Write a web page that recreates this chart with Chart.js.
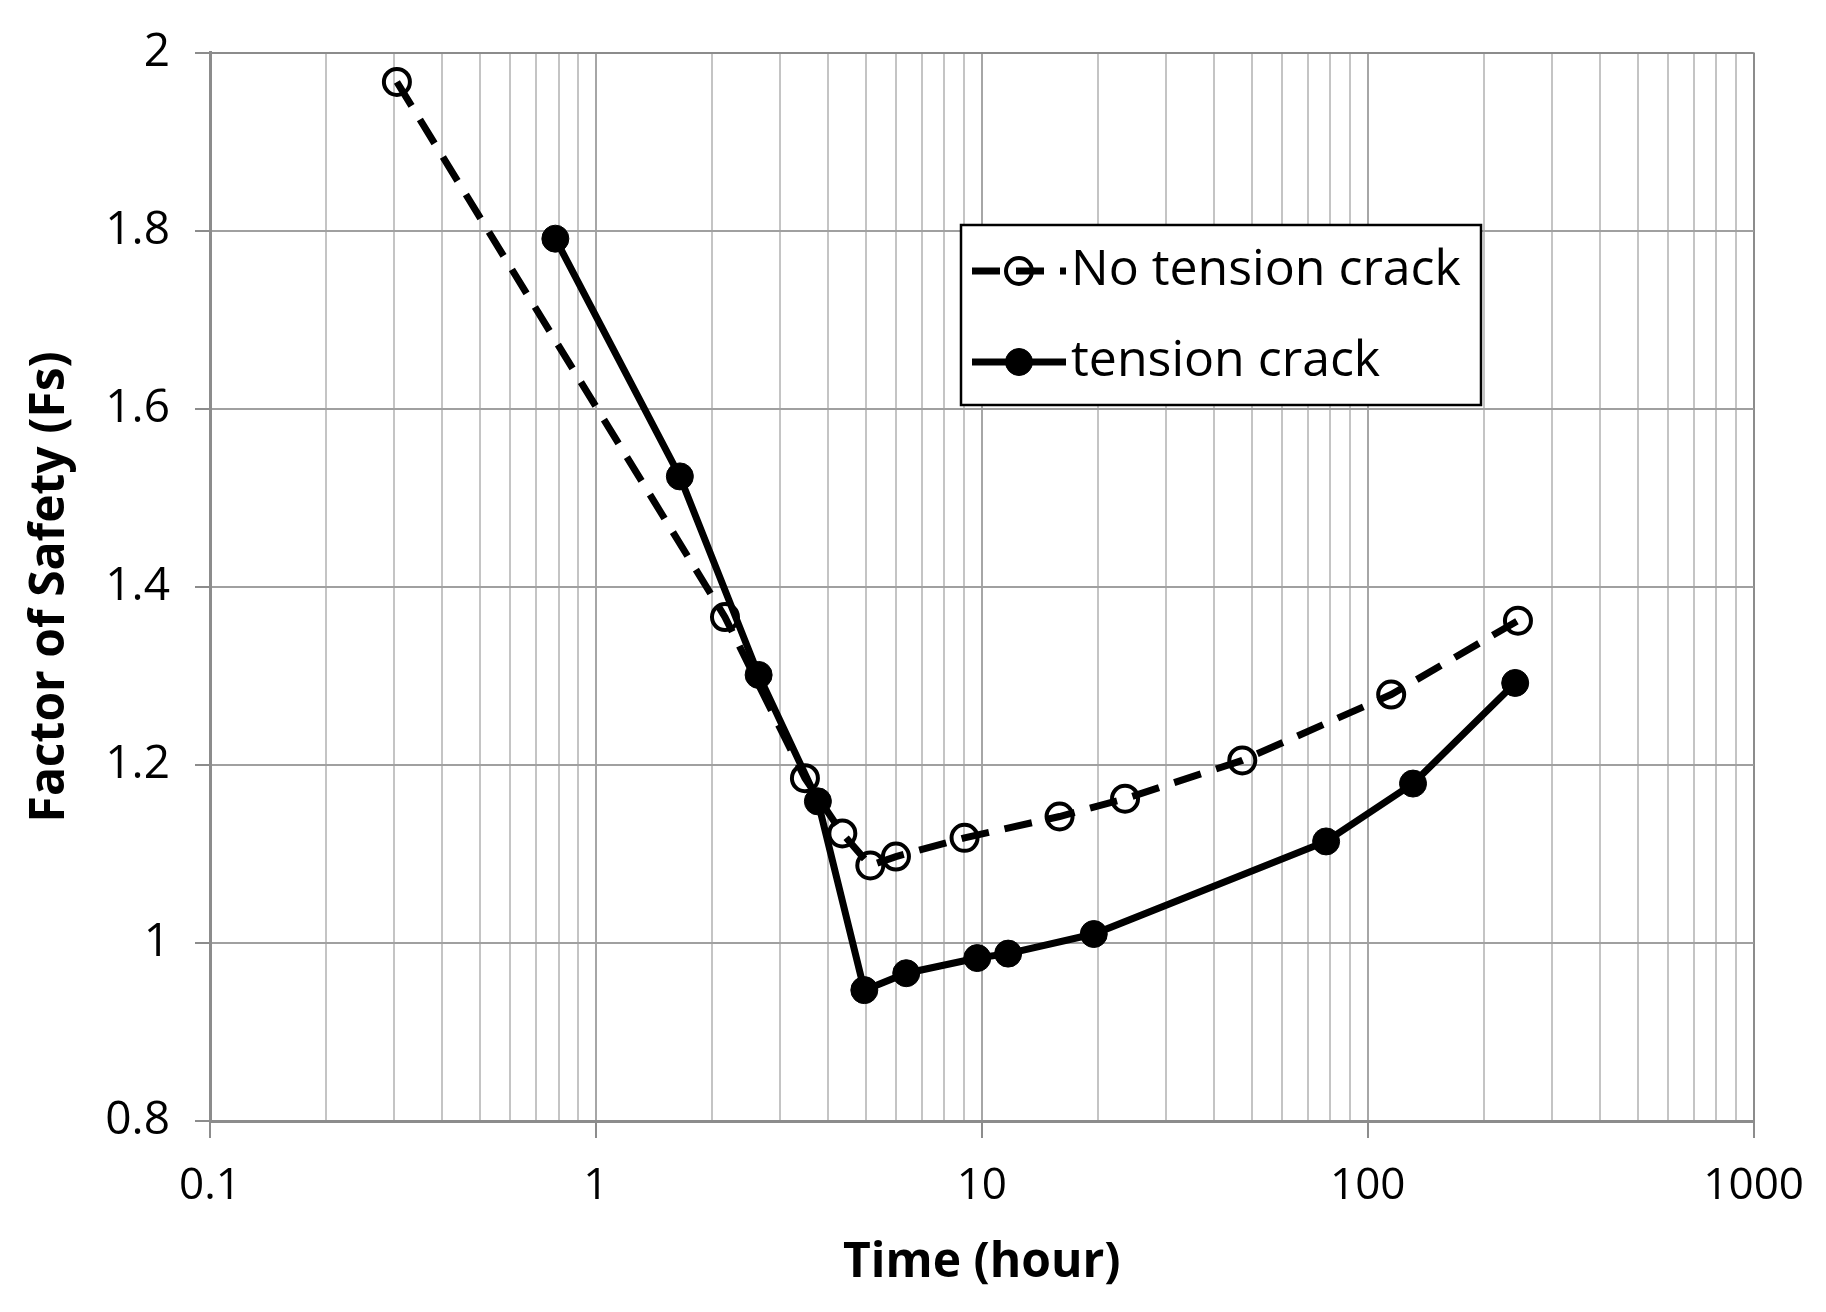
<!DOCTYPE html>
<html>
<head>
<meta charset="utf-8">
<script src="https://cdn.jsdelivr.net/npm/chart.js@4.4.1/dist/chart.umd.min.js"></script>
<style>
  html, body { margin: 0; padding: 0; background: #fff; }
  #fsChart { display: block; }
</style>
</head>
<body>
<canvas id="fsChart" width="1826" height="1312"></canvas>
<script>
// Factor of safety vs time

// No tension crack (open circles, dashed)
const noCrackTime = [0.305, 2.16, 3.48, 4.35, 5.14, 5.99, 9.02, 15.9, 23.5, 47.3, 115, 245];
const noCrackFs   = [1.967, 1.366, 1.185, 1.123, 1.087, 1.097, 1.118, 1.142, 1.162, 1.205, 1.279, 1.362];

// Tension crack (filled circles, solid)
const crackTime = [0.785, 1.65, 2.64, 3.76, 4.96, 6.37, 9.73, 11.7, 19.5, 78, 131, 241];
const crackFs   = [1.791, 1.524, 1.301, 1.159, 0.947, 0.966, 0.983, 0.988, 1.010, 1.114, 1.179, 1.292];

// axis ticks
const xMajorTicks = [0.1, 1, 10, 100, 1000];
const yTickValues = [0.8, 1, 1.2, 1.4, 1.6, 1.8, 2];

const toPoints = (xs, ys) => xs.map((x, i) => ({ x: x, y: ys[i] }));

// decades plus the 2..9 lines between them
const buildLogTicks = () => {
    const ticks = [];
    for (let d = 0; d < xMajorTicks.length; d++) {
        ticks.push({ value: xMajorTicks[d], major: true });
        if (d < xMajorTicks.length - 1) {
            for (let m = 2; m <= 9; m++) ticks.push({ value: m * xMajorTicks[d], major: false });
        }
    }
    return ticks;
};

const FONT = "'Open Sans', 'DejaVu Sans', sans-serif";

// legend drawn inside the plot, line sample + marker like the original
const boxLegend = {
    id: "boxLegend",
    afterDraw(chart) {
        const c = chart.ctx;
        const left = 961, top = 225, w = 520, h = 180;
        c.save();
        c.fillStyle = "#fff";
        c.fillRect(left, top, w, h);
        c.strokeStyle = "#000";
        c.lineWidth = 2.5;
        c.strokeRect(left, top, w, h);

        const rows = [271, 362];
        chart.data.datasets.forEach((ds, i) => {
            const y = rows[i];
            c.strokeStyle = "#000";
            c.lineWidth = ds.borderWidth;
            c.setLineDash(ds.borderDash || []);
            c.beginPath();
            c.moveTo(972, y);
            c.lineTo(1066, y);
            c.stroke();
            c.setLineDash([]);
            c.beginPath();
            c.arc(1019, y, ds.pointRadius, 0, Math.PI * 2);
            if (ds.pointBackgroundColor !== "rgba(0,0,0,0)") {
                c.fillStyle = ds.pointBackgroundColor;
                c.fill();
            }
            c.lineWidth = ds.pointBorderWidth;
            c.stroke();

            c.fillStyle = "#000";
            c.font = "50px " + FONT;
            c.textBaseline = "middle";
            c.textAlign = "left";
            c.fillText(ds.label, 1071, y);
        });
        c.restore();
    }
};

const ctx = document.getElementById("fsChart").getContext("2d");
const fsChart = new Chart(ctx, {
    type: "line",
    data: {
        datasets: [{
            label: "No tension crack",
            data: toPoints(noCrackTime, noCrackFs),
            borderColor: "#000",
            borderWidth: 7,
            borderDash: [28, 16],
            pointRadius: 13,
            pointBorderWidth: 4,
            pointBorderColor: "#000",
            pointBackgroundColor: "rgba(0,0,0,0)",
            fill: false,
            tension: 0,
            order: 1
        }, {
            label: "tension crack",
            data: toPoints(crackTime, crackFs),
            borderColor: "#000",
            borderWidth: 7,
            pointRadius: 13.5,
            pointBorderWidth: 1,
            pointBorderColor: "#000",
            pointBackgroundColor: "#000",
            fill: false,
            tension: 0,
            order: 0
        }]
    },
    options: {
        responsive: false,
        devicePixelRatio: 1,
        animation: false,
        layout: { padding: { top: 44, right: 70, bottom: 0, left: 0 } },
        plugins: {
            legend: { display: false },
            tooltip: { enabled: false }
        },
        scales: {
            x: {
                type: "logarithmic",
                min: 0.1,
                max: 1000,
                afterBuildTicks: (scale) => { scale.ticks = buildLogTicks(); },
                afterFit: (scale) => { scale.height = 191; },
                ticks: {
                    autoSkip: false,
                    maxRotation: 0,
                    padding: 22,
                    color: "#000",
                    font: { family: FONT, size: 44 },
                    callback: (v) => (xMajorTicks.includes(v) ? String(v) : "")
                },
                grid: {
                    color: (c) => {
                        if (c.tick && c.tick.value === 1000) return "#8c8c8c";
                        return c.tick && c.tick.major ? "#a6a6a6" : "#c4c4c4";
                    },
                    lineWidth: 2,
                    tickLength: 17,
                    tickColor: (c) => (c.tick && c.tick.major ? "#8c8c8c" : "rgba(0,0,0,0)")
                },
                border: { color: "#8c8c8c", width: 3 },
                title: {
                    display: true,
                    text: "Time (hour)",
                    color: "#000",
                    font: { family: FONT, size: 48, weight: "bold" },
                    padding: { top: 0, bottom: 20 }
                }
            },
            y: {
                type: "linear",
                min: 0.8,
                max: 2,
                afterBuildTicks: (scale) => { scale.ticks = yTickValues.map(v => ({ value: v })); },
                afterFit: (scale) => { scale.width = 210; },
                ticks: {
                    padding: 25,
                    color: "#000",
                    font: { family: FONT, size: 46 },
                    callback: (v) => String(+Number(v).toFixed(1))
                },
                grid: {
                    color: (c) => (c.tick && (c.tick.value === 2 || c.tick.value === 0.8) ? "#8c8c8c" : "#a0a0a0"),
                    lineWidth: 2,
                    tickLength: 15,
                    tickColor: "#8c8c8c"
                },
                border: { color: "#8c8c8c", width: 3 },
                title: {
                    display: true,
                    text: "Factor of Safety (Fs)",
                    color: "#000",
                    font: { family: FONT, size: 48, weight: "bold" },
                    padding: { top: 22, bottom: 0 }
                }
            }
        }
    },
    plugins: [boxLegend]
});
</script>
</body>
</html>
